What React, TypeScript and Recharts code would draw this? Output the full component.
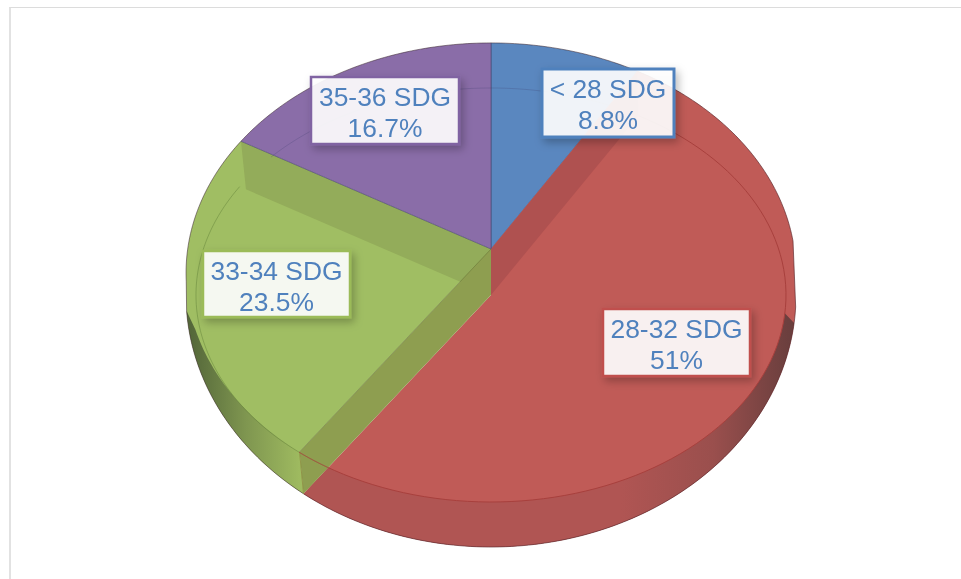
import React from 'react';
import { PieChart, Pie } from 'recharts';

const categories = ['< 28 SDG', '28-32 SDG', '33-34 SDG', '35-36 SDG'];
const shares = [8.8, 51, 23.5, 16.7];
const shareLabels = ['8.8%', '51%', '23.5%', '16.7%'];
const data = categories.map((name, i) => ({ name, value: shares[i], text: shareLabels[i] }));

// perspective projection of the disc
const DEPTH = 46;
const K = 0.104;
const PH = 227.5;
const PW = 303.3;
const INNER = [295, 207];
const OUTER = [305, 252];

const borderColors = ['#4F81BD', '#C0504D', '#9BBB59', '#8064A2'];
const faceColors = ['#5A87BF', '#C05B57', '#A0BE63', '#8A6DA8'];
const boxes = [
  { x: 542, y: 69, w: 132, h: 68, sw: 3 },
  { x: 603, y: 309, w: 147, h: 67, sw: 2.5 },
  { x: 203, y: 251, w: 147, h: 66, sw: 2.5 },
  { x: 311, y: 77, w: 148, h: 67, sw: 2.5 },
];

type Pt = [number, number];
const rad = (d: number) => (d * Math.PI) / 180;

function geom(cx: number, cy: number) {
  const P = (t: number): Pt => {
    const w = 1 + K * Math.cos(rad(t));
    return [(PW * Math.sin(rad(t))) / w, (-PH * Math.cos(rad(t))) / w];
  };
  const A = (t: number): Pt => {
    const p = P(t);
    return [cx + p[0], cy + p[1]];
  };
  const ray = (t: number, e: number[]): Pt => {
    const p = P(t);
    const s = 1 / Math.hypot(p[0] / e[0], p[1] / e[1]);
    return [cx + s * p[0], cy + DEPTH + s * p[1]];
  };
  const I = (t: number) => ray(t, INNER);
  const O = (t: number) => ray(t, OUTER);
  const phi = (p: Pt) => {
    let a = Math.atan2((p[0] - cx) / INNER[0], -(p[1] - cy - DEPTH) / INNER[1]);
    if (a < 0) a += Math.PI * 2;
    return a;
  };
  const ell = (a: Pt, b: Pt): Pt[] => {
    const p1 = phi(a);
    const p2 = phi(b);
    const out: Pt[] = [];
    for (let i = 0; i <= 90; i++) {
      const f = p1 + ((p2 - p1) * i) / 90;
      out.push([cx + INNER[0] * Math.sin(f), cy + DEPTH - INNER[1] * Math.cos(f)]);
    }
    return out;
  };
  const sweep = (fn: (t: number) => Pt, a: number, b: number): Pt[] => {
    const out: Pt[] = [];
    const n = Math.max(2, Math.ceil(Math.abs(b - a)));
    for (let i = 0; i <= n; i++) out.push(fn(a + ((b - a) * i) / n));
    return out;
  };
  return { A, I, O, ell, sweep };
}

const path = (pts: Pt[], close = true) =>
  pts.map((p, i) => `${i ? 'L' : 'M'}${p[0].toFixed(2)} ${p[1].toFixed(2)}`).join(' ') + (close ? ' Z' : '');

const EDGE = 'rgba(60,40,50,0.55)';

function Slice(props: any) {
  const { cx, cy, startAngle, endAngle, index } = props;
  const ts = 90 - startAngle;
  const te = 90 - endAngle;
  const { A, I, O, ell, sweep } = geom(cx, cy);
  const top: Pt = [cx, cy];
  const low: Pt = [cx, cy + DEPTH];
  const face = faceColors[index];

  if (index === 1) {
    const outline = [...sweep(A, ts, 88), ...sweep(O, 93, te)];
    const base = [top, ...outline, low];
    const band = [top, low, I(ts), A(ts)];
    const wall = [...ell(A(106), I(te)), ...sweep(O, te, 97)];
    return (
      <g>
        <defs>
          <linearGradient id="redWall" gradientUnits="userSpaceOnUse" x1={cx + 298} y1="0" x2={cx + 130} y2="0">
            <stop offset="0" stopColor="#6B3F3E" />
            <stop offset="0.45" stopColor="#9A4F4D" />
            <stop offset="1" stopColor="#B05553" />
          </linearGradient>
        </defs>
        <path d={path(base)} fill={face} />
        <path d={path(band)} fill="#AF5150" />
        <path d={path(wall)} fill="url(#redWall)" />
        <path d={path(outline, false)} fill="none" stroke="rgba(90,40,45,0.65)" strokeWidth={1} />
        <path d={path(ell(I(ts), A(te)), false)} fill="none" stroke="#A8403D" strokeWidth={1} />
      </g>
    );
  }

  if (index === 2) {
    const corner = I(te);
    const inset: Pt = [low[0] + (corner[0] - low[0]) * 0.975, low[1] + (corner[1] - low[1]) * 0.975];
    const outline = [...sweep(O, ts, 266), ...sweep(A, 262, te)];
    const base = [top, A(ts), ...outline];
    const band = [top, low, inset, A(te)];
    const olive = [top, A(ts), O(ts), low];
    const wall = [...sweep(A, ts, 250), ...sweep(O, 266, ts)];
    return (
      <g>
        <defs>
          <linearGradient id="greenWall" gradientUnits="userSpaceOnUse" x1={cx - 300} y1="0" x2={cx - 190} y2="0">
            <stop offset="0" stopColor="#55683A" />
            <stop offset="0.5" stopColor="#7F9650" />
            <stop offset="1" stopColor="#9FBB60" />
          </linearGradient>
        </defs>
        <path d={path(base)} fill={face} />
        <path d={path(band)} fill="#93AC5A" />
        <path d={path(olive)} fill="#8E9E50" />
        <path d={path(wall)} fill="url(#greenWall)" />
        <path d={path(outline, false)} fill="none" stroke={EDGE} strokeWidth={1} />
        <path d={path(ell(A(ts), inset), false)} fill="none" stroke="rgba(90,120,50,0.6)" strokeWidth={0.7} />
        <path d={path([A(ts), O(ts)], false)} fill="none" stroke="#8C8C40" strokeWidth={0.8} />
        <path d={path(ell(A(ts), I(ts)), false)} fill="none" stroke="#A8403D" strokeWidth={1} />
        <path d={path([top, A(ts)], false)} fill="none" stroke="rgba(100,110,50,0.7)" strokeWidth={0.7} />
      </g>
    );
  }

  const sector = [top, ...sweep(A, ts, te)];
  const arcStart = index === 3 ? ts + 10 : ts;
  return (
    <g>
      <path d={path(sector)} fill={face} />
      <path d={path(ell(I(arcStart), I(te)), false)} fill="none" stroke="rgba(60,60,110,0.35)" strokeWidth={0.7} />
      <path d={path(sweep(A, ts, te), false)} fill="none" stroke={EDGE} strokeWidth={1} />
      <path d={path([A(ts), top, A(te)], false)} fill="none" stroke="rgba(70,70,110,0.6)" strokeWidth={1} />
    </g>
  );
}

function SliceLabel(props: any) {
  const { index, payload } = props;
  const b = boxes[index];
  const mid = b.x + b.w / 2;
  const item = payload?.payload ?? payload;
  return (
    <g>
      <defs>
        <filter id={`sh${index}`} x="-20%" y="-20%" width="140%" height="150%">
          <feDropShadow dx="3" dy="4" stdDeviation="4" floodColor="#000" floodOpacity="0.28" />
        </filter>
      </defs>
      <rect
        x={b.x}
        y={b.y}
        width={b.w}
        height={b.h}
        fill="rgba(255,255,255,0.9)"
        stroke={borderColors[index]}
        strokeWidth={b.sw}
        filter={`url(#sh${index})`}
      />
      <text x={mid} y={b.y + 28.5} textAnchor="middle" fontFamily="'Liberation Sans', Arial, sans-serif" fontSize={26.4} fill="#4F81BD">
        {item.name}
      </text>
      <text x={mid} y={b.y + 59.5} textAnchor="middle" fontFamily="'Liberation Sans', Arial, sans-serif" fontSize={26.4} fill="#4F81BD">
        {item.text}
      </text>
    </g>
  );
}

export default function App() {
  return (
    <div style={{ position: 'absolute', left: 0, top: 0, width: 961, height: 579, background: '#fff', overflow: 'hidden' }}>
      <div
        style={{
          position: 'absolute',
          left: 9,
          top: 7,
          right: -4,
          bottom: -4,
          borderLeft: '2px solid #E2E2E2',
          borderTop: '1px solid #DCDCDC',
          borderRight: 'none',
        }}
      />
      <div style={{ position: 'absolute', left: 0, top: 0, filter: 'blur(0.45px)' }}>
        <PieChart width={961} height={579} margin={{ top: 0, right: 0, bottom: 0, left: 0 }}>
          <Pie
            data={data}
            dataKey="value"
            nameKey="name"
            cx={491}
            cy={249}
            outerRadius={305}
            startAngle={90}
            endAngle={-270}
            paddingAngle={0}
            stroke="none"
            shape={Slice}
            label={SliceLabel}
            labelLine={false}
            isAnimationActive={false}
          />
        </PieChart>
      </div>
    </div>
  );
}
